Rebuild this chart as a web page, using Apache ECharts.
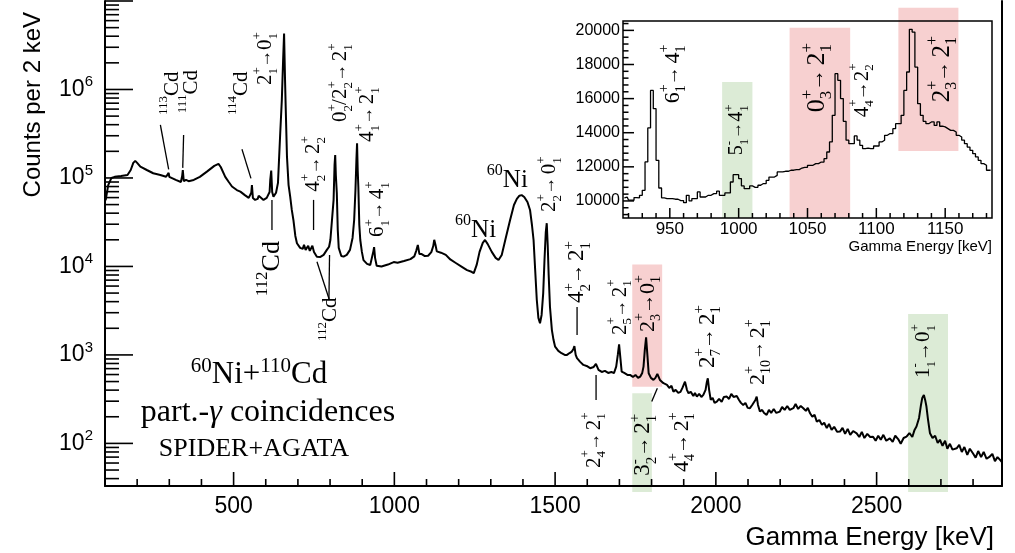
<!DOCTYPE html>
<html>
<head>
<meta charset="utf-8">
<script src="https://cdn.jsdelivr.net/npm/echarts@6/dist/echarts.min.js"></script>
<style>
html,body{margin:0;padding:0;background:#fff;}
#chart{width:1015px;height:553px;}
</style>
</head>
<body>
<div id="chart"></div>
<script>
// ================= DATA =================
// main spectrum: [energy keV, counts per 2 keV]
const mainSpectrum = [[102,5.6e4],[110,8.3e4],[120,1.0e5],[130,1.03e5],[150,1.05e5],[170,1.08e5],[180,1.23e5],[188,1.48e5],[194,1.56e5],[200,1.48e5],[210,1.34e5],[230,1.23e5],[250,1.13e5],[272,1.08e5],[290,1.03e5],[296,1.03e5],[298,1.14e5],[300,1.03e5],[320,9.5e4],[336,9.0e4],[340,1.05e5],[342,1.23e5],[345,9.2e4],[352,9.5e4],[356,9.9e4],[360,9.2e4],[376,9.5e4],[395,1.03e5],[417,1.18e5],[440,1.37e5],[453,1.44e5],[460,1.33e5],[474,1.03e5],[485,9.0e4],[495,8.0e4],[510,7.3e4],[521,7.0e4],[535,6.4e4],[547,5.95e4],[552,6.1e4],[555,6.8e4],[557,8.3e4],[560,5.95e4],[567,5.65e4],[575,5.8e4],[578,6.3e4],[583,6.1e4],[593,5.65e4],[603,5.95e4],[612,6.95e4],[614,9.5e4],[617,1.21e5],[620,6.95e4],[624,6.15e4],[632,6.8e4],[638,8.8e4],[645,3.2e5],[650,7.6e5],[654,2.15e6],[657,4.3e6],[660,1.28e6],[662,6.4e5],[666,1.74e5],[671,8.3e4],[676,6.15e4],[681,4.35e4],[686,3.35e4],[692,2.21e4],[697,1.83e4],[707,1.62e4],[715,1.58e4],[719,1.75e4],[724,1.54e4],[728,1.62e4],[732,1.71e4],[737,1.50e4],[742,1.58e4],[745,1.71e4],[750,1.46e4],[759,1.29e4],[770,1.28e4],[780,1.35e4],[790,1.54e4],[797,1.67e4],[801,1.99e4],[806,3.35e4],[811,5.65e4],[814,1.40e5],[816,1.82e5],[818,1.08e5],[821,6.8e4],[824,2.58e4],[827,1.62e4],[835,1.31e4],[842,1.29e4],[852,1.35e4],[862,1.54e4],[870,2.1e4],[875,3.35e4],[879,7.3e4],[882,1.6e5],[884,2.47e5],[886,1.23e5],[888,7.9e4],[891,2.94e4],[894,1.99e4],[899,1.46e4],[904,1.18e4],[915,1.07e4],[925,1.04e4],[931,1.09e4],[935,1.5e4],[937,1.65e4],[940,1.25e4],[945,1.02e4],[960,1.0e4],[980,1.05e4],[998,1.12e4],[1010,1.1e4],[1030,1.15e4],[1050,1.21e4],[1062,1.3e4],[1068,1.5e4],[1073,1.75e4],[1078,1.38e4],[1085,1.38e4],[1095,1.31e4],[1105,1.32e4],[1115,1.45e4],[1121,1.7e4],[1124,2.0e4],[1128,1.75e4],[1132,1.48e4],[1145,1.43e4],[1160,1.35e4],[1174,1.2e4],[1190,1.1e4],[1210,9.9e3],[1226,9.1e3],[1240,8.7e3],[1247,8.4e3],[1256,1.04e4],[1265,1.46e4],[1275,1.85e4],[1282,1.99e4],[1290,1.8e4],[1303,1.46e4],[1315,1.25e4],[1324,1.18e4],[1334,1.35e4],[1345,1.99e4],[1360,3.35e4],[1372,4.95e4],[1381,5.8e4],[1389,6.3e4],[1396,6.4e4],[1404,6.1e4],[1414,5.35e4],[1422,4.35e4],[1428,2.94e4],[1433,1.99e4],[1438,9.1e3],[1443,4.2e3],[1448,2.62e3],[1453,2.28e3],[1458,2.83e3],[1463,5.0e3],[1467,1.18e4],[1471,2.45e4],[1474,3.08e4],[1477,1.75e4],[1480,8.0e3],[1484,3.5e3],[1490,1.91e3],[1495,1.48e3],[1500,1.24e3],[1510,1.11e3],[1520,1.045e3],[1530,1.0e3],[1537,1.0e3],[1545,1.05e3],[1552,1.09e3],[1557,1.17e3],[1560,1.26e3],[1564,1.0e3],[1568,918],[1578,834],[1588,771],[1598,751],[1609,708],[1620,731],[1627,791],[1635,677],[1645,642],[1655,660],[1665,626],[1675,642],[1683,621],[1690,738],[1695,1000],[1699,1320],[1703,925],[1707,648],[1715,626],[1725,594],[1733,594],[1742,564],[1750,594],[1758,550],[1765,569],[1771,626],[1775,738],[1779,1140],[1783,1580],[1787,1000],[1791,621],[1798,550],[1806,522],[1812,550],[1818,610],[1821,621],[1826,522],[1837,479],[1848,458],[1855,424],[1862,447],[1868,385],[1875,403],[1883,372],[1890,382],[1896,424],[1904,499],[1910,403],[1915,369],[1922,382],[1930,344],[1935,372],[1941,338],[1948,362],[1955,335],[1961,353],[1968,403],[1972,495],[1975,545],[1979,403],[1984,310],[1990,327],[1996,287],[2003,297],[2010,318],[2018,294],[2025,335],[2034,338],[2041,318],[2048,362],[2055,335],[2065,344],[2072,310],[2078,287],[2085,272],[2092,287],[2099,252],[2106,250],[2113,272],[2119,272],[2123,310],[2127,338],[2131,272],[2137,229],[2144,239],[2150,221],[2158,210],[2165,239],[2172,221],[2180,245],[2188,221],[2199,229],[2206,258],[2214,239],[2222,265],[2230,239],[2241,250],[2248,279],[2256,245],[2264,265],[2272,250],[2280,233],[2286,252],[2293,219],[2300,200],[2307,210],[2314,176],[2322,184],[2330,162],[2337,171],[2345,149],[2352,166],[2360,142],[2368,154],[2377,135],[2386,136],[2394,150],[2402,128],[2410,146],[2418,125],[2427,138],[2438,130],[2446,118],[2454,135],[2462,115],[2471,128],[2480,118],[2489,119],[2497,107],[2505,122],[2513,110],[2521,125],[2530,107],[2541,114],[2550,104],[2558,122],[2567,112],[2575,99],[2584,115],[2593,119],[2602,131],[2611,118],[2618,142],[2624,155],[2632,194],[2638,272],[2642,327],[2647,353],[2651,310],[2655,261],[2660,184],[2666,130],[2674,115],[2682,122],[2690,101],[2697,110],[2705,94],[2713,107],[2720,87],[2728,99],[2736,85],[2749,88],[2757,96],[2765,80],[2773,91],[2782,74],[2790,87],[2800,77],[2808,69],[2816,82],[2825,70],[2833,80],[2842,67],[2852,71],[2860,76],[2868,63],[2876,70],[2884,65],[2889,62]];

// inset histogram: 2 keV bins, first bin centre at 917 keV
const insetFirstBin = 917;
const insetBinWidth = 2;
const insetCounts = [10180,10230,10050,10040,10200,10180,10330,10620,12290,14280,16480,15410,12380,10760,10180,10140,10140,10140,10100,10100,10020,10020,9900,10330,10000,10140,10140,10530,10230,10230,10330,10330,10430,10430,10570,10330,10330,10470,10470,11110,11540,11540,11310,10880,10720,10720,10880,10800,10800,10920,11020,11020,11210,11400,11400,11500,11700,11700,11740,11740,11800,11800,11840,11840,11930,11970,11970,12090,12090,12190,12190,12280,12280,12480,12870,13460,15020,17460,17070,16000,14670,13560,13360,13360,13810,13560,13260,13070,13100,13070,13070,13220,13220,13460,13560,13850,13950,13950,14240,14530,14530,15020,16480,17560,20060,19900,17850,15700,15020,14670,14530,14630,14630,14430,14630,14380,14340,14240,14140,14140,14040,13850,13750,13560,13360,13160,12970,12770,12580,12380,12190,12090,11800,11800];

// tick labels
const mainXTickLabels = [500, 1000, 1500, 2000, 2500];
const mainYTickExponents = [2, 3, 4, 5, 6];
const insetXTickLabels = [950, 1000, 1050, 1100, 1150];
const insetYTickLabels = [10000, 12000, 14000, 16000, 18000, 20000];

// highlight bands: [E from, E to, counts bottom, counts top, kind 0=red 1=green]
const mainBands = [[1740, 1833, 438, 10500, 0], [1740, 1801, 28.3, 369, 1], [2598, 2722, 28.3, 2900, 1]];
const insetBands = [[988, 1010, 9000, 16970, 1], [1037, 1081, 9000, 20160, 0], [1116, 1159.6, 12930, 21330, 0]];

// ================= LAYOUT / STYLE =================
const SERIF = '"Liberation Serif","Times New Roman",serif';
const SANS = '"Liberation Sans",Arial,Helvetica,sans-serif';
const PINK = '#f7d0d0', GREEN = '#dcebd6';
const MAIN_X = [100, 2890], MAIN_Y = [33, 1e7];
const INSET_X = [916, 1184], INSET_Y = [9000, 20550];
const MAIN_GRID = { left: 105, top: 1, width: 897, height: 485 };
const INSET_GRID = { left: 623, top: 21, width: 369, height: 197 };

const insetData = insetCounts.map((c, i) => [insetFirstBin + i * insetBinWidth, c]);

// axis tick positions and lengths (px)
const mainXTicks = [];
for (let v = 200; v <= 2800; v += 100) mainXTicks.push([v, mainXTickLabels.indexOf(v) >= 0 ? 14 : 7]);
const insetXTicks = [];
for (let v = 920; v <= 1180; v += 10) insetXTicks.push([v, insetXTickLabels.indexOf(v) >= 0 ? 10 : 5]);
const mainYTicks = [];
for (let e = 1; e <= 7; e++) for (let k = 1; k <= 9; k++) {
  const v = k * Math.pow(10, e);
  if (v >= MAIN_Y[0] && v <= MAIN_Y[1]) mainYTicks.push([v, k === 1 ? 28 : 14]);
}
const insetYTicks = [];
for (let v = 9200; v <= 20400; v += 400) insetYTicks.push([v, v % 2000 === 0 ? 11 : 5.5]);

// axis ticks (inward, ROOT style) drawn through api.coord
function axisDecor(xr, yr, xt, yt, lw, frame) {
  return function (params, api) {
    const children = [];
    const origin = api.coord([xr[0], yr[0]]);
    yt.forEach(t => {
      const y = api.coord([xr[0], t[0]])[1];
      children.push({ type: 'rect', shape: { x: origin[0], y: y - lw / 2, width: t[1], height: lw }, style: { fill: '#000' } });
    });
    xt.forEach(t => {
      const x = api.coord([t[0], yr[1]])[0];
      children.push({ type: 'rect', shape: { x: x - lw / 2, y: origin[1] - t[1], width: lw, height: t[1] }, style: { fill: '#000' } });
    });
    if (frame) {
      const a = api.coord([xr[0], yr[1]]), b = api.coord([xr[1], yr[0]]);
      children.push({ type: 'rect', shape: { x: a[0], y: a[1], width: b[0] - a[0], height: b[1] - a[1] },
        style: { fill: 'none', stroke: '#000', lineWidth: lw } });
    }
    return { type: 'group', children: children };
  };
}
function bandRenderer(params, api) {
  const a = api.coord([api.value(0), api.value(3)]);
  const b = api.coord([api.value(1), api.value(2)]);
  return { type: 'rect', shape: { x: a[0], y: a[1], width: b[0] - a[0], height: b[1] - a[1] },
    style: { fill: api.value(4) === 1 ? GREEN : PINK } };
}

const option = {
  animation: false,
  backgroundColor: '#fff',
  grid: [
    Object.assign({ show: false, z: 0 }, MAIN_GRID),
    Object.assign({ show: true, backgroundColor: '#fff', borderWidth: 0, z: 0 }, INSET_GRID)
  ],
  xAxis: [
    { gridIndex: 0, type: 'value', min: MAIN_X[0], max: MAIN_X[1], interval: 100, z: 10,
      axisLine: { lineStyle: { color: '#000', width: 2 } }, axisTick: { show: false }, splitLine: { show: false },
      axisLabel: { margin: 9, color: '#000', fontSize: 23, fontFamily: SANS,
        formatter: v => mainXTickLabels.indexOf(v) >= 0 ? String(v) : '' } },
    { gridIndex: 1, type: 'value', min: INSET_X[0], max: INSET_X[1], interval: 2,
      axisLine: { show: false }, axisTick: { show: false }, splitLine: { show: false },
      axisLabel: { margin: 3, color: '#000', fontSize: 17, fontFamily: SANS,
        formatter: v => insetXTickLabels.indexOf(v) >= 0 ? String(v) : '' } }
  ],
  yAxis: [
    { gridIndex: 0, type: 'log', logBase: 10, min: MAIN_Y[0], max: MAIN_Y[1], z: 10,
      axisLine: { show: true, lineStyle: { color: '#000', width: 2 } }, axisTick: { show: false }, splitLine: { show: false },
      axisLabel: { margin: 12, color: '#000',
        formatter: v => {
          const l = Math.log10(v), e = Math.round(l);
          if (Math.abs(l - e) > 1e-6 || mainYTickExponents.indexOf(e) < 0) return '';
          return '{b|10}{s|' + e + '}';
        },
        rich: { b: { fontSize: 23, fontFamily: SANS, color: '#000', lineHeight: 30 },
                s: { fontSize: 15, fontFamily: SANS, color: '#000', verticalAlign: 'top', lineHeight: 15 } } } },
    { gridIndex: 0, type: 'log', logBase: 10, min: MAIN_Y[0], max: MAIN_Y[1], position: 'right', z: 10,
      axisLine: { show: true, onZero: false, lineStyle: { color: '#000', width: 2 } }, axisTick: { show: false },
      axisLabel: { show: false }, splitLine: { show: false } },
    { gridIndex: 1, type: 'value', min: INSET_Y[0], max: INSET_Y[1], interval: 1000,
      axisLine: { show: false }, axisTick: { show: false }, splitLine: { show: false },
      axisLabel: { margin: 3, color: '#000', fontSize: 16, fontFamily: SANS,
        formatter: v => insetYTickLabels.indexOf(v) >= 0 ? String(v) : '' } }
  ],
  series: [
    { type: 'line', xAxisIndex: 0, yAxisIndex: 0, data: mainSpectrum, symbol: 'none', z: 3,
      lineStyle: { color: '#000', width: 2 }, silent: true },
    { type: 'custom', xAxisIndex: 0, yAxisIndex: 0, data: mainBands, renderItem: bandRenderer, clip: false, z: 1,
      encode: { x: [0, 1], y: [2, 3] }, silent: true },
    { type: 'custom', xAxisIndex: 0, yAxisIndex: 0, data: [[1000, 1000]],
      renderItem: axisDecor(MAIN_X, MAIN_Y, mainXTicks, mainYTicks, 1.6, false), clip: false, z: 11,
      encode: { x: 0, y: 1 }, silent: true },
    { type: 'line', xAxisIndex: 1, yAxisIndex: 2, data: insetData, step: 'middle', symbol: 'none', z: 3,
      lineStyle: { color: '#000', width: 1.3 }, silent: true },
    { type: 'custom', xAxisIndex: 1, yAxisIndex: 2, data: insetBands, renderItem: bandRenderer, clip: false, z: 1,
      encode: { x: [0, 1], y: [2, 3] }, silent: true },
    { type: 'custom', xAxisIndex: 1, yAxisIndex: 2, data: [[1000, 15000]],
      renderItem: axisDecor(INSET_X, INSET_Y, insetXTicks, insetYTicks, 1.5, true), clip: false, z: 11,
      encode: { x: 0, y: 1 }, silent: true }
  ]
};

const chart = echarts.init(document.getElementById('chart'));
chart.setOption(option);

// ================= ANNOTATIONS =================
function lv(base, sub, sup) { return '{b|' + base + '}{p0|' + sup + '}{d|' + sub + '}'; }
function tr(a, b, bold, space) {
  return lv(a[0], a[1], a[2]) + (bold ? '{ab|\u2192}' : '{a|\u2192}') + (space ? '{sp| }' : '') + lv(b[0], b[1], b[2]);
}
function richFor(fs) {
  const s = Math.round(fs * 0.64);
  return {
    b: { fontSize: fs, fontFamily: SERIF, fill: '#000', lineHeight: Math.round(fs * 1.4) },
    sp: { fontSize: Math.round(fs * 0.5), fontFamily: SERIF, fill: '#000' },
    p0: { fontSize: s, fontFamily: SERIF, fill: '#000', verticalAlign: 'top', lineHeight: s, width: 0 },
    u: { fontSize: s, fontFamily: SERIF, fill: '#000', verticalAlign: 'top', lineHeight: s },
    d: { fontSize: s, fontFamily: SERIF, fill: '#000', verticalAlign: 'bottom', lineHeight: s },
    a: { fontSize: Math.round(fs * 0.85), fontFamily: SERIF, fill: '#000' },
    ab: { fontSize: Math.round(fs * 0.9), fontFamily: SERIF, fontWeight: 'bold', fill: '#000' }
  };
}

// rotated labels, anchored at their lower end (data coordinates)
const mainLabels = [
  { text: '{u|113}{b|Cd}', at: [308.5, 5.15e5], fs: 21 },
  { text: '{u|111}{b|Cd}', at: [367.5, 5.4e5], fs: 21 },
  { text: '{u|114}{b|Cd}', at: [523, 5.15e5], fs: 21 },
  { text: tr(['2', '1', '+'], ['0', '1', '+'], false, false), at: [598.5, 1.125e6], fs: 21 },
  { text: '{u|112}{b|Cd}', at: [619.3, 4.6e3], fs: 26 },
  { text: tr(['4', '2', '+'], ['2', '2', '+'], false, true), at: [749.7, 7.0e4], fs: 21 },
  { text: '{u|112}{b|Cd}', at: [800.6, 1.44e3], fs: 21 },
  { text: lv('0', '2', '+') + '{b|/}' + tr(['2', '2', '+'], ['2', '1', '+'], false, true), at: [831.7, 4.3e5], fs: 21 },
  { text: tr(['4', '1', '+'], ['2', '1', '+'], false, true), at: [915.6, 2.55e5], fs: 21 },
  { text: tr(['6', '1', '+'], ['4', '1', '+'], false, true), at: [948.2, 2.15e4], fs: 21 },
  { text: tr(['2', '2', '+'], ['0', '1', '+'], false, true), at: [1481.3, 4.13e4], fs: 21 },
  { text: tr(['4', '2', '+'], ['2', '1', '+'], false, true), at: [1568.3, 3.87e3], fs: 23 },
  { text: tr(['2', '5', '+'], ['2', '1', '+'], false, true), at: [1702, 1.68e3], fs: 21 },
  { text: tr(['2', '3', '+'], ['0', '1', '+'], true, false), at: [1789, 1.82e3], fs: 22 },
  { text: tr(['2', '7', '+'], ['2', '1', '+'], true, true), at: [1975.6, 713], fs: 23 },
  { text: tr(['2', '10', '+'], ['2', '1', '+'], false, true), at: [2131, 458], fs: 22 },
  { text: tr(['1', '1', '-'], ['0', '1', '+'], true, false), at: [2647, 550], fs: 21 },
  { text: tr(['2', '4', '+'], ['2', '1', '+'], false, true), at: [1621, 52.8], fs: 21 },
  { text: tr(['3', '2', '-'], ['2', '1', '+'], false, true), at: [1773.6, 43], fs: 23 },
  { text: tr(['4', '4', '+'], ['2', '1', '+'], true, true), at: [1895, 47.6], fs: 22 }
];
const mainFlatLabels = [
  { text: '{u|60}{b|Ni}', at: [1189, 2.58e4], fs: 25 },
  { text: '{u|60}{b|Ni}', at: [1287.7, 9.38e4], fs: 25 }
];
const insetLabels = [
  { text: tr(['6', '1', '+'], ['4', '1', '+'], false, true), at: [952.3, 15723], fs: 22 },
  { text: tr(['5', '1', '-'], ['4', '1', '+'], false, false), at: [998.8, 12677], fs: 20 },
  { text: tr(['0', '3', '+'], ['2', '1', '+'], false, true), at: [1056.9, 15196], fs: 26 },
  { text: tr(['4', '4', '+'], ['2', '2', '+'], true, false), at: [1089.6, 14903], fs: 21 },
  { text: tr(['2', '3', '+'], ['2', '1', '+'], false, true), at: [1148.2, 15782], fs: 25 }
];
// leader lines [[E1, c1], [E2, c2]]
const mainLeaders = [
  [[272.2, 3.97e5], [298, 1.25e5]],
  [[344.5, 3.06e5], [341.8, 1.3e5]],
  [[526, 2.11e5], [554, 9.9e4]],
  [[748.7, 5.65e4], [748.7, 2.58e4]],
  [[619.3, 5.65e4], [619.3, 2.58e4]],
  [[759.3, 1.13e4], [798, 4.18e3]],
  [[798.4, 1.35e4], [796.5, 4.18e3]],
  [[1568.3, 3.48e3], [1568.3, 1.68e3]],
  [[1627.4, 594], [1627.4, 310]],
  [[1800.6, 297], [1818, 421]]
];

const graphics = [];
function addLabels(list, seriesIndex, rotated) {
  list.forEach(l => {
    const p = chart.convertToPixel({ seriesIndex: seriesIndex }, l.at);
    graphics.push({ type: 'text', x: p[0], y: p[1], rotation: rotated ? Math.PI / 2 : 0, z: 100,
      style: { text: l.text, rich: richFor(l.fs), fontSize: l.fs, fontFamily: SERIF, fill: '#000', align: 'left', verticalAlign: 'middle' } });
  });
}
addLabels(mainLabels, 0, true);
addLabels(mainFlatLabels, 0, false);
addLabels(insetLabels, 3, true);
mainLeaders.forEach(seg => {
  const a = chart.convertToPixel({ seriesIndex: 0 }, seg[0]);
  const b = chart.convertToPixel({ seriesIndex: 0 }, seg[1]);
  graphics.push({ type: 'line', z: 100, shape: { x1: a[0], y1: a[1], x2: b[0], y2: b[1] }, style: { stroke: '#000', lineWidth: 1.3 } });
});

// titles and the reaction text block
graphics.push({ type: 'text', x: 33, y: 12, rotation: Math.PI / 2, z: 100,
  style: { text: 'Counts per 2 keV', fontSize: 24, fontFamily: SANS, fill: '#000', align: 'right', verticalAlign: 'middle' } });
graphics.push({ type: 'text', x: 994, y: 538, z: 100,
  style: { text: 'Gamma Energy [keV]', fontSize: 26, fontFamily: SANS, fill: '#000', align: 'right', verticalAlign: 'middle' } });
graphics.push({ type: 'text', x: 992, y: 247, z: 100,
  style: { text: 'Gamma Energy [keV]', fontSize: 15, fontFamily: SANS, fill: '#000', align: 'right', verticalAlign: 'middle' } });
const blockRich = {
  b: { fontSize: 31, fontFamily: SERIF, fill: '#000', lineHeight: 38 },
  u: { fontSize: 21, fontFamily: SERIF, fill: '#000', verticalAlign: 'top', lineHeight: 21 },
  i: { fontSize: 32, fontFamily: SERIF, fontStyle: 'italic', fill: '#000' },
  c: { fontSize: 32, fontFamily: SERIF, fill: '#000' }
};
graphics.push({ type: 'text', x: 259, y: 375, z: 100,
  style: { text: '{u|60}{b|Ni+}{u|110}{b|Cd}', rich: blockRich, align: 'center', verticalAlign: 'middle' } });
graphics.push({ type: 'text', x: 268, y: 413, z: 100,
  style: { text: '{c|part.-}{i|\u03b3}{c| coincidences}', rich: blockRich, align: 'center', verticalAlign: 'middle' } });
graphics.push({ type: 'text', x: 254, y: 449, z: 100,
  style: { text: 'SPIDER+AGATA', fontSize: 26, fontFamily: SERIF, fill: '#000', align: 'center', verticalAlign: 'middle' } });

chart.setOption({ graphic: { elements: graphics } });
</script>
</body>
</html>
